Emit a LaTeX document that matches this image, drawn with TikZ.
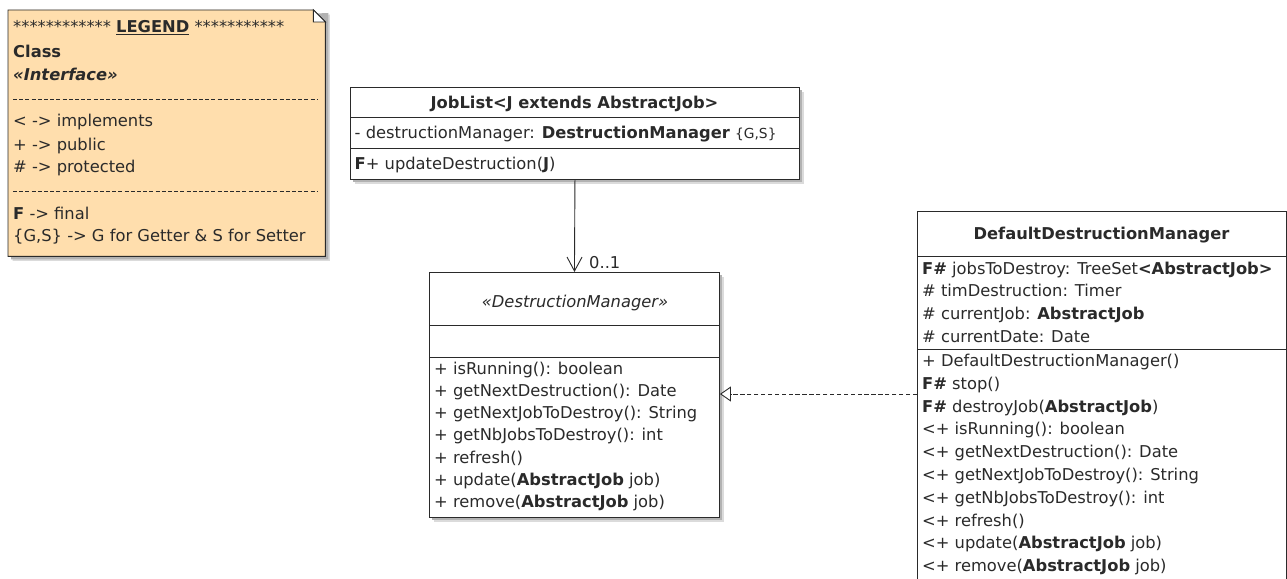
\documentclass[tikz,border=0pt]{standalone}
\usepackage{fontspec}
\setmainfont{DejaVu Sans}
\usetikzlibrary{arrows.meta,shadows}

\definecolor{notefill}{HTML}{FFDEAD}
\definecolor{edge}{HTML}{2A2A2A}
\newcommand{\fsz}{\fontsize{16.3}{19}\selectfont}
\newcommand{\fsmall}{\fontsize{13.8}{16}\selectfont}

\tikzset{
  softshadow/.style={
    drop shadow={shadow xshift=4.5pt, shadow yshift=-4.5pt, fill=black!14, opacity=1},
    drop shadow={shadow xshift=3pt, shadow yshift=-3pt, fill=black!30, opacity=1}},
  umlbox/.style={draw=edge, line width=0.9pt, fill=white, inner sep=0pt,
    anchor=north west, softshadow},
  row/.style={anchor=base west, inner sep=0pt, font=\fsz, text=edge},
  titlerow/.style={anchor=base, inner sep=0pt, font=\fsz\bfseries, text=edge},
  sep/.style={draw=edge, line width=0.9pt},
  assoc/.style={draw=edge, line width=0.9pt, -{Straight Barb[length=14pt, width=15pt]}},
  realize/.style={draw=edge, line width=0.9pt, dash pattern=on 4.3pt off 2.6pt,
    -{Triangle[open, length=11pt, width=15pt, fill=white]}},
  legendrule/.style={draw=edge, line width=0.9pt, dash pattern=on 4pt off 2.2pt},
}

\begin{document}
\begin{tikzpicture}[x=1pt, y=-1pt]
\useasboundingbox (0,0) rectangle (1287,578);
\fill[white] (0,0) rectangle (1287,578);

% ---------- legend note ----------
\node[inner sep=0pt, anchor=north west, minimum width=317pt, minimum height=246pt] (legend) at (8,10) {};
\fill[black!14] ([xshift=4.5pt, yshift=-4.5pt]legend.north west) ++(0,12)
  -- ([xshift=4.5pt, yshift=-4.5pt]legend.north east) -- ([xshift=4.5pt, yshift=-4.5pt]legend.south east)
  -- ([xshift=4.5pt, yshift=-4.5pt]legend.south west) -- cycle;
\fill[black!30] ([xshift=3pt, yshift=-3pt]legend.north west) ++(0,12)
  -- ([xshift=3pt, yshift=-3pt]legend.north east) -- ([xshift=3pt, yshift=-3pt]legend.south east)
  -- ([xshift=3pt, yshift=-3pt]legend.south west) -- cycle;
\filldraw[fill=notefill, draw=edge, line width=0.9pt]
  (legend.north west) -- ([xshift=-12pt]legend.north east) -- ([yshift=-12pt]legend.north east)
  -- (legend.south east) -- (legend.south west) -- cycle;
\filldraw[fill=white, draw=edge, line width=0.9pt]
  ([xshift=-12pt]legend.north east) -- ([xshift=-12pt, yshift=-12pt]legend.north east)
  -- ([yshift=-12pt]legend.north east) -- cycle;
\node[row] (lg1) at (13,32.5) {************ \textbf{\underline{LEGEND}} ***********};
\node[row, font=\fsz\bfseries] (lg2) at (13,57.5) {Class};
\node[row, font=\fsz\bfseries\itshape] (lg3) at (13,81) {«Interface»};
\draw[legendrule] (13,99.5) -- (318,99.5);
\node[row] (lg4) at (13,126.5) {< -> implements};
\node[row] (lg5) at (13,150) {+ -> public};
\node[row] (lg6) at (13,172.5) {\# -> protected};
\draw[legendrule] (13,191.5) -- (318,191.5);
\node[row] (lg7) at (13,219) {\textbf{F} -> final};
\node[row] (lg8) at (13,241) {\{G,S\} -> G for Getter \& S for Setter};

% ---------- JobList ----------
\node[umlbox, minimum width=449pt, minimum height=92pt] (joblist) at (350,87) {};
\draw[sep] (joblist.west |- 0,117) -- (joblist.east |- 0,117);
\draw[sep] (joblist.west |- 0,148) -- (joblist.east |- 0,148);
\node[titlerow] (jl-name) at (574.5,108) {JobList<J extends AbstractJob>};
\node[row] (jl-a1) at (354.5,138) {- destructionManager: \textbf{DestructionManager} {\fsmall\{G,S\}}};
\node[row] (jl-m1) at (354.5,169) {\textbf{F}+ updateDestruction(\textbf{J})};

% ---------- DestructionManager interface ----------
\node[umlbox, minimum width=290pt, minimum height=245pt] (dm) at (429,272) {};
\draw[sep] (dm.west |- 0,325) -- (dm.east |- 0,325);
\draw[sep] (dm.west |- 0,357) -- (dm.east |- 0,357);
\node[anchor=base, inner sep=0pt, font=\fsz\itshape, text=edge] (dm-name) at (575,307) {«DestructionManager»};
\node[row] (dm-m1) at (434,374.0) {+ isRunning(): boolean};
\node[row] (dm-m2) at (434,396.3) {+ getNextDestruction(): Date};
\node[row] (dm-m3) at (434,418.6) {+ getNextJobToDestroy(): String};
\node[row] (dm-m4) at (434,440.9) {+ getNbJobsToDestroy(): int};
\node[row] (dm-m5) at (434,463.2) {+ refresh()};
\node[row] (dm-m6) at (434,485.5) {+ update(\textbf{AbstractJob} job)};
\node[row] (dm-m7) at (434,507.8) {+ remove(\textbf{AbstractJob} job)};

% ---------- DefaultDestructionManager ----------
\node[umlbox, minimum width=369pt, minimum height=380pt] (ddm) at (917,211) {};
\draw[sep] (ddm.west |- 0,256) -- (ddm.east |- 0,256);
\draw[sep] (ddm.west |- 0,349) -- (ddm.east |- 0,349);
\node[titlerow] (ddm-name) at (1101.5,239) {DefaultDestructionManager};
\node[row] (ddm-a1) at (922,274.0) {\textbf{F\#} jobsToDestroy: TreeSet\textbf{<AbstractJob>}};
\node[row] (ddm-a2) at (922,296.8) {\# timDestruction: Timer};
\node[row] (ddm-a3) at (922,319.6) {\# currentJob: \textbf{AbstractJob}};
\node[row] (ddm-a4) at (922,342.4) {\# currentDate: Date};
\node[row] (ddm-m1) at (922,366.5) {+ DefaultDestructionManager()};
\node[row] (ddm-m2) at (922,389.3) {\textbf{F\#} stop()};
\node[row] (ddm-m3) at (922,412.1) {\textbf{F\#} destroyJob(\textbf{AbstractJob})};
\node[row] (ddm-m4) at (922,434.9) {<+ isRunning(): boolean};
\node[row] (ddm-m5) at (922,457.7) {<+ getNextDestruction(): Date};
\node[row] (ddm-m6) at (922,480.5) {<+ getNextJobToDestroy(): String};
\node[row] (ddm-m7) at (922,503.3) {<+ getNbJobsToDestroy(): int};
\node[row] (ddm-m8) at (922,526.1) {<+ refresh()};
\node[row] (ddm-m9) at (922,548.9) {<+ update(\textbf{AbstractJob} job)};
\node[row] (ddm-m10) at (922,571.7) {<+ remove(\textbf{AbstractJob} job)};

% ---------- connectors ----------
\draw[assoc] (joblist.south) -- (dm.north);
\node[row] (mult) at (589,268) {0..1};
\coordinate (rl) at (0,394);
\draw[realize] (ddm.west |- rl) -- (dm.east |- rl);
\end{tikzpicture}
\end{document}
